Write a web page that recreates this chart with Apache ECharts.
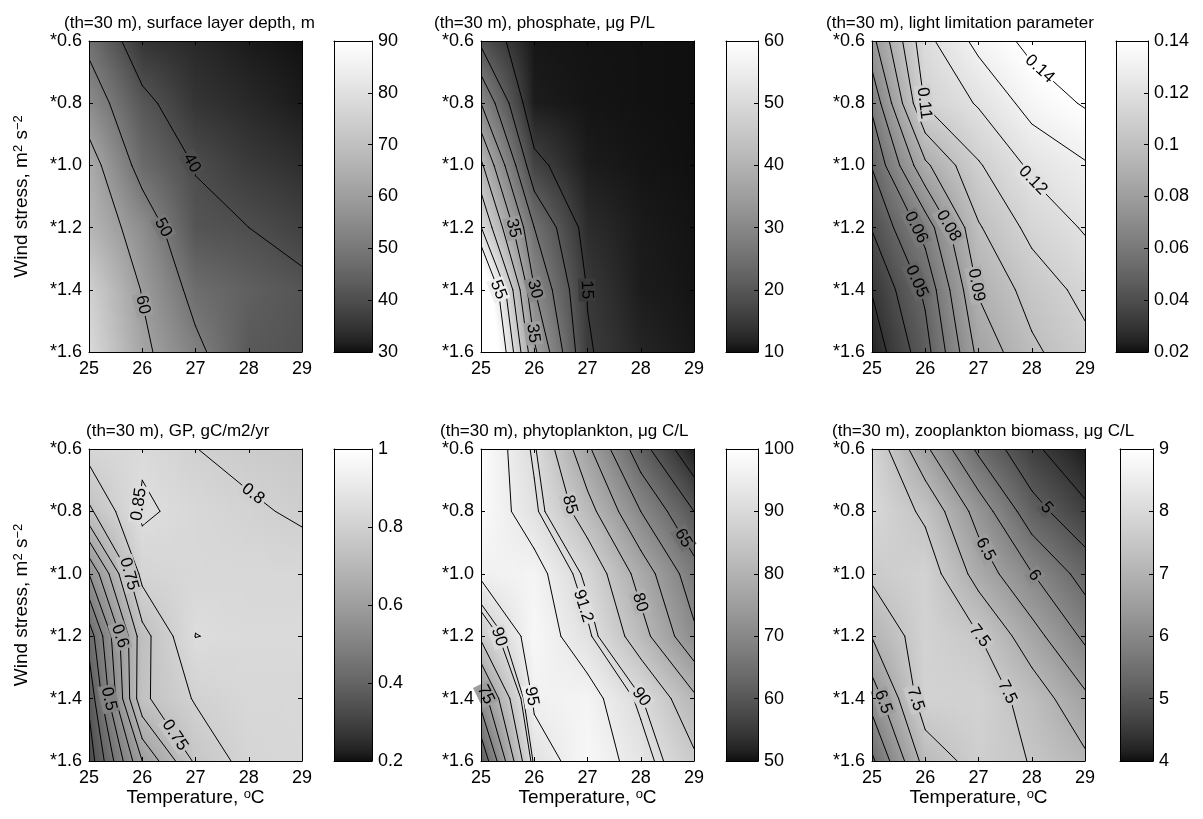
<!DOCTYPE html>
<html>
<head>
<meta charset="utf-8">
<title>th=30 m sensitivity maps</title>
<script src="https://cdn.jsdelivr.net/npm/echarts@6.0.0/dist/echarts.min.js"></script>
<style>
html, body { margin: 0; padding: 0; background: #fff; }
#chart { width: 1203px; height: 819px; }
</style>
</head>
<body>
<div id="chart"></div>
<script>
var FONT = '"Liberation Sans", Arial, Helvetica, sans-serif';

// model grid
var temperature = [25, 26, 27, 28, 29];
var windStress = [0.6, 0.8, 1.0, 1.2, 1.4, 1.6];

// one row per wind stress (0.6 .. 1.6), one column per temperature (25 .. 29)
var surfaceDepth = [
  [48, 35, 33, 31, 30],
  [55, 42, 35, 33, 31],
  [64, 46.6, 39.7, 36, 34],
  [67, 55.5, 41.5, 40.01, 37.5],
  [75, 59.5, 47.2, 44, 41.5],
  [78, 62, 52, 42.5, 41]
];
var phosphate = [
  [19, 10.5, 10.2, 10.1, 10],
  [30, 11, 10.3, 10.1, 10],
  [41, 16.5, 11, 10.3, 10],
  [50.2, 25, 13, 10.8, 10.2],
  [67, 30.2, 14.8, 11, 10.3],
  [72, 36, 15.4, 12, 10.5]
];
var lightLimit = [
  [0.077, 0.117, 0.133, 0.143, 0.15],
  [0.062, 0.111, 0.121, 0.134, 0.141],
  [0.0505, 0.088, 0.109, 0.122, 0.129],
  [0.0405, 0.064, 0.099, 0.113, 0.121],
  [0.0305, 0.052, 0.091, 0.104, 0.113],
  [0.024, 0.046, 0.083, 0.098, 0.107]
];
var grossProd = [
  [0.82, 0.84, 0.801, 0.78, 0.77],
  [0.74, 0.86, 0.83, 0.81, 0.79],
  [0.55, 0.817, 0.83, 0.83, 0.83],
  [0.42, 0.73, 0.851, 0.84, 0.84],
  [0.36, 0.74, 0.805, 0.83, 0.83],
  [0.32, 0.6, 0.76, 0.82, 0.83]
];
var phyto = [
  [99.5, 90.5, 76, 62, 51],
  [99, 92, 82, 70, 60],
  [96, 97, 89, 78, 67],
  [86, 98, 92, 82, 71],
  [72, 96, 97, 90.3, 81],
  [60.5, 92, 98, 93, 86]
];
var zoo = [
  [7.9, 6.6, 5.4, 4.6, 4.1],
  [7.95, 7.4, 6.3, 5.2, 4.6],
  [7.6, 7.8, 6.8, 6.02, 5.3],
  [7.02, 7.8, 7.52, 6.7, 5.9],
  [6.2, 7.8, 7.8, 7.3, 6.6],
  [5.4, 7.2, 7.7, 7.48, 7.1]
];

// contour levels
var depthLevels = [40, 50, 60];
var phosLevels = [15, 20, 25, 30, 35, 40, 45, 50, 55];
var lightLevels = [0.03, 0.04, 0.05, 0.06, 0.07, 0.08, 0.09, 0.1, 0.11, 0.12, 0.13, 0.14];
var gpLevels = [0.35, 0.4, 0.45, 0.5, 0.55, 0.6, 0.65, 0.7, 0.75, 0.8, 0.85];
var phytoLevels = [55, 60, 65, 70, 75, 80, 85, 90, 91.2, 95];
var zooLevels = [4.5, 5, 5.5, 6, 6.5, 7, 7.5];

// colour bar limits and tick step
var depthRange = [30, 90, 10];
var phosRange = [10, 60, 10];
var lightRange = [0.02, 0.14, 0.02];
var gpRange = [0.2, 1, 0.2];
var phytoRange = [50, 100, 10];
var zooRange = [4, 9, 1];

var panels = [
  { title: '(th=30 m), surface layer depth, m', field: surfaceDepth, levels: depthLevels, range: depthRange,
    spots: [[40, 26.96, 0.99], [50, 26.39, 1.2], [60, 25.95, 1.45]],
    left: 89, top: 41, height: 311, cbLeft: 334, cbWidth: 38, titleLeft: 64, titleTop: 15, first: true, last: false },
  { title: '(th=30 m), phosphate, \u03bcg P/L', field: phosphate, levels: phosLevels, range: phosRange,
    spots: [[55, 25.32, 1.4], [35, 25.66, 1.2], [30, 25.97, 1.4], [35, 25.98, 1.54], [15, 27.04, 1.4]],
    left: 481, top: 41, height: 311, cbLeft: 726, cbWidth: 32, titleLeft: 434, titleTop: 15, first: false, last: false },
  { title: '(th=30 m), light limitation parameter', field: lightLimit, levels: lightLevels, range: lightRange,
    spots: [[0.14, 28.04, 0.71], [0.11, 25.97, 0.8], [0.12, 27.95, 1.06], [0.06, 25.82, 1.2],
            [0.08, 26.38, 1.2], [0.05, 25.88, 1.37], [0.09, 27.1, 1.38]],
    left: 872, top: 41, height: 311, cbLeft: 1116, cbWidth: 32, titleLeft: 826, titleTop: 15, first: false, last: false },
  { title: '(th=30 m), GP, gC/m2/yr', field: grossProd, levels: gpLevels, range: gpRange,
    spots: [[0.8, 28.1, 0.74], [0.85, 26.05, 0.78], [0.75, 25.75, 1.0], [0.6, 25.58, 1.2], [0.5, 25.39, 1.4], [0.75, 26.94, 1.48]],
    left: 89, top: 449, height: 312, cbLeft: 334, cbWidth: 38, titleLeft: 86, titleTop: 423, first: true, last: true },
  { title: '(th=30 m), phytoplankton, \u03bcg C/L', field: phyto, levels: phytoLevels, range: phytoRange,
    spots: [[85, 26.42, 0.79], [65, 28.76, 0.89], [80, 28.01, 1.09], [91.2, 26.98, 1.1], [90, 28.04, 1.39],
            [90, 25.54, 1.19], [95, 26.04, 1.39], [75, 25.17, 1.38]],
    left: 481, top: 449, height: 312, cbLeft: 726, cbWidth: 32, titleLeft: 440, titleTop: 423, first: false, last: true },
  { title: '(th=30 m), zooplankton biomass, \u03bcg C/L', field: zoo, levels: zooLevels, range: zooRange,
    spots: [[5, 28.2, 0.8], [6.5, 27.04, 0.93], [6, 28.01, 1.01], [7.5, 27.01, 1.2], [7.5, 27.41, 1.39],
            [7.5, 25.85, 1.4], [6.5, 25.38, 1.4]],
    left: 872, top: 449, height: 312, cbLeft: 1120, cbWidth: 33, titleLeft: 832, titleTop: 423, first: false, last: true }
];

// grey scale of the print (slightly lifted, not linear)
function shade(g) {
  g = Math.max(0, Math.min(1, g));
  var c = Math.round(15 + 240 * Math.pow(g, 0.75));
  return 'rgb(' + c + ',' + c + ',' + c + ')';
}
function grayOf(v, range) {
  return shade((v - range[0]) / (range[1] - range[0]));
}

// vertical gradient stops for a strip going from vTop to vBot
function gradientStops(vTop, vBot, range, steps) {
  var span = range[1] - range[0];
  var gt = (vTop - range[0]) / span, gb = (vBot - range[0]) / span;
  var ss = [];
  for (var k = 0; k <= steps; k++) ss.push(k / steps);
  [0, 1].forEach(function (lim) {
    if ((gt - lim) * (gb - lim) < 0) ss.push((lim - gt) / (gb - gt));
  });
  ss.sort(function (a, b) { return a - b; });
  return ss.map(function (s) {
    return { offset: s, color: shade(gt + (gb - gt) * s) };
  });
}

function edgePoint(va, vb, pa, pb, level) {
  if ((va >= level) === (vb >= level)) return null;
  var t = (level - va) / (vb - va);
  return [pa[0] + t * (pb[0] - pa[0]), pa[1] + t * (pb[1] - pa[1])];
}

// marching squares on the model grid, segments in data units
function contourSegments(field, level) {
  var segs = [];
  for (var r = 0; r < windStress.length - 1; r++) {
    for (var c = 0; c < temperature.length - 1; c++) {
      var x0 = temperature[c], x1 = temperature[c + 1];
      var y0 = windStress[r], y1 = windStress[r + 1];
      var a = field[r][c], b = field[r][c + 1], e = field[r + 1][c + 1], d = field[r + 1][c];
      var top = edgePoint(a, b, [x0, y0], [x1, y0], level);
      var right = edgePoint(b, e, [x1, y0], [x1, y1], level);
      var bottom = edgePoint(d, e, [x0, y1], [x1, y1], level);
      var left = edgePoint(a, d, [x0, y0], [x0, y1], level);
      var pts = [top, right, bottom, left].filter(Boolean);
      if (pts.length === 2) {
        segs.push(pts[0].concat(pts[1]));
      } else if (pts.length === 4) {
        var mid = (a + b + e + d) / 4;
        if ((mid >= level) === (a >= level)) {
          segs.push(top.concat(right));
          segs.push(bottom.concat(left));
        } else {
          segs.push(left.concat(top));
          segs.push(right.concat(bottom));
        }
      }
    }
  }
  return segs;
}

// put each label on the nearest piece of its contour
function placeLabels(p) {
  var out = [];
  p.spots.forEach(function (s) {
    var best = null, bestD = Infinity;
    contourSegments(p.field, s[0]).forEach(function (g) {
      var dx = (g[2] - g[0]) * 53, dy = (g[3] - g[1]) * 311;
      var hx = (s[1] - g[0]) * 53, hy = (s[2] - g[1]) * 311;
      var len2 = dx * dx + dy * dy;
      var t = len2 > 0 ? Math.max(0, Math.min(1, (hx * dx + hy * dy) / len2)) : 0;
      var ex = hx - t * dx, ey = hy - t * dy;
      var dist = ex * ex + ey * ey;
      if (dist < bestD) {
        bestD = dist;
        best = [g[0] + t * (g[2] - g[0]), g[1] + t * (g[3] - g[1]), g[0], g[1], g[2], g[3]];
      }
    });
    if (best) out.push({ value: best, text: String(s[0]), level: s[0] });
  });
  return out;
}

var axisLine = { show: true, onZero: false, lineStyle: { color: '#000', width: 1 } };
var tickIn = { show: true, inside: true, length: 4, lineStyle: { color: '#000', width: 1 } };
var tickLabel = { color: '#000', fontSize: 18, fontFamily: FONT };
var nameStyle = { color: '#000', fontSize: 19, fontFamily: FONT,
  rich: { n: { fontSize: 19, fontFamily: FONT, color: '#000' },
          s: { fontSize: 13, fontFamily: FONT, color: '#000', verticalAlign: 'top' } } };

var option = {
  animation: false,
  backgroundColor: '#fff',
  title: [],
  grid: [],
  xAxis: [],
  yAxis: [],
  series: []
};

panels.forEach(function (p) {
  option.title.push({
    text: p.title, left: p.titleLeft, top: p.titleTop, padding: 0,
    textStyle: { fontSize: 17, fontWeight: 'normal', color: '#000', fontFamily: FONT }
  });

  // map area
  var gi = option.grid.length;
  option.grid.push({ left: p.left, top: p.top, width: 213, height: p.height, containLabel: false, outerBoundsMode: 'none' });
  var xi = option.xAxis.length;
  option.xAxis.push({
    type: 'value', gridIndex: gi, position: 'bottom', min: 25, max: 29, interval: 1, z: 10,
    axisLine: axisLine, axisTick: tickIn, splitLine: { show: false },
    axisLabel: Object.assign({ margin: 8 }, tickLabel),
    name: p.last ? '{n|Temperature, }{s|o}{n|C}' : '', nameLocation: 'middle', nameGap: 27,
    nameTextStyle: nameStyle
  });
  option.xAxis.push({
    type: 'value', gridIndex: gi, position: 'top', min: 25, max: 29, interval: 1, z: 10,
    axisLine: axisLine, axisTick: tickIn, splitLine: { show: false }, axisLabel: { show: false }
  });
  var yi = option.yAxis.length;
  option.yAxis.push({
    type: 'value', gridIndex: gi, position: 'left', min: 0.6, max: 1.6, interval: 0.2, inverse: true, z: 10,
    axisLine: axisLine, axisTick: tickIn, splitLine: { show: false },
    axisLabel: Object.assign({ margin: 7, formatter: function (v) { return '*' + v.toFixed(1); } }, tickLabel),
    name: p.first ? '{n|Wind stress, m}{s|2}{n| s}{s|\u22122}' : '', nameLocation: 'middle', nameGap: 58, nameRotate: 90,
    nameTextStyle: nameStyle
  });
  option.yAxis.push({
    type: 'value', gridIndex: gi, position: 'right', min: 0.6, max: 1.6, interval: 0.2, inverse: true, z: 10,
    axisLine: axisLine, axisTick: tickIn, splitLine: { show: false }, axisLabel: { show: false }
  });

  // shaded field, one item per grid cell, painted in one-pixel columns on whole pixels
  var cells = [];
  for (var r = 0; r < windStress.length - 1; r++) {
    for (var c = 0; c < temperature.length - 1; c++) {
      cells.push([temperature[c], windStress[r], temperature[c + 1], windStress[r + 1], c, r]);
    }
  }
  var field = p.field, range = p.range;
  option.series.push({
    type: 'custom', xAxisIndex: xi, yAxisIndex: yi, silent: true, clip: true, z: 1,
    encode: { x: [0, 2], y: [1, 3] },
    data: cells,
    renderItem: function (params, api) {
      var c = api.value(4), r = api.value(5);
      var p0 = api.coord([api.value(0), api.value(1)]);
      var p1 = api.coord([api.value(2), api.value(3)]);
      var a = field[r][c], b = field[r][c + 1], d = field[r + 1][c], e = field[r + 1][c + 1];
      var xa = Math.round(p0[0]), xb = Math.round(p1[0]);
      var ya = Math.round(p0[1]), yb = Math.round(p1[1]);
      var kids = [];
      for (var x = xa; x < xb; x++) {
        var u = Math.max(0, Math.min(1, (x + 0.5 - p0[0]) / (p1[0] - p0[0])));
        var vt = a + (b - a) * u, vb = d + (e - d) * u;
        kids.push({
          type: 'rect',
          shape: { x: x, y: ya, width: 1, height: yb - ya },
          style: { fill: new echarts.graphic.LinearGradient(0, 0, 0, 1, gradientStops(vt, vb, range, 6)) }
        });
      }
      return { type: 'group', children: kids };
    }
  });

  // contour lines
  var segs = [];
  p.levels.forEach(function (lv) { segs = segs.concat(contourSegments(field, lv)); });
  option.series.push({
    type: 'custom', xAxisIndex: xi, yAxisIndex: yi, silent: true, clip: true, z: 2,
    encode: { x: [0, 2], y: [1, 3] },
    data: segs,
    renderItem: function (params, api) {
      var a = api.coord([api.value(0), api.value(1)]);
      var b = api.coord([api.value(2), api.value(3)]);
      return { type: 'line', shape: { x1: a[0], y1: a[1], x2: b[0], y2: b[1] },
               style: { stroke: '#000', lineWidth: 1, lineCap: 'round' } };
    }
  });

  // contour labels
  var labels = placeLabels(p);
  option.series.push({
    type: 'custom', xAxisIndex: xi, yAxisIndex: yi, silent: true, clip: false, z: 3,
    encode: { x: [0, 2, 4], y: [1, 3, 5] },
    data: labels.map(function (l) { return l.value; }),
    renderItem: function (params, api) {
      var l = labels[params.dataIndex];
      var pt = api.coord([api.value(0), api.value(1)]);
      var a = api.coord([api.value(2), api.value(3)]);
      var b = api.coord([api.value(4), api.value(5)]);
      var ang = Math.atan2(b[1] - a[1], b[0] - a[0]);
      if (ang > Math.PI / 2) ang -= Math.PI;
      if (ang < -Math.PI / 2) ang += Math.PI;
      return {
        type: 'text', x: pt[0], y: pt[1], rotation: -ang,
        style: { text: l.text, fill: '#000', font: '17px ' + FONT, align: 'center', verticalAlign: 'middle',
                 backgroundColor: grayOf(l.level, range), padding: [0, 2] }
      };
    }
  });

  // colour bar
  var cg = option.grid.length;
  option.grid.push({ left: p.cbLeft, top: p.top, width: p.cbWidth, height: p.height, containLabel: false, outerBoundsMode: 'none' });
  var cx = option.xAxis.length;
  option.xAxis.push({ type: 'value', gridIndex: cg, position: 'bottom', min: 0, max: 1, z: 10,
    axisLine: axisLine, axisTick: { show: false }, axisLabel: { show: false }, splitLine: { show: false } });
  option.xAxis.push({ type: 'value', gridIndex: cg, position: 'top', min: 0, max: 1, z: 10,
    axisLine: axisLine, axisTick: { show: false }, axisLabel: { show: false }, splitLine: { show: false } });
  var cy = option.yAxis.length;
  option.yAxis.push({ type: 'value', gridIndex: cg, position: 'right', min: range[0], max: range[1], interval: range[2], z: 10,
    axisLine: axisLine, axisTick: tickIn, splitLine: { show: false },
    axisLabel: Object.assign({ margin: 6 }, tickLabel) });
  option.yAxis.push({ type: 'value', gridIndex: cg, position: 'left', min: range[0], max: range[1], z: 10,
    axisLine: axisLine, axisTick: { show: false }, axisLabel: { show: false }, splitLine: { show: false } });
  option.series.push({
    type: 'custom', xAxisIndex: cx, yAxisIndex: cy, silent: true, z: 1,
    encode: { x: [0, 2], y: [1, 3] },
    data: [[0, range[0], 1, range[1]]],
    renderItem: function (params, api) {
      var lo = api.coord([api.value(0), api.value(1)]);
      var hi = api.coord([api.value(2), api.value(3)]);
      return {
        type: 'rect',
        shape: { x: lo[0], y: hi[1], width: hi[0] - lo[0], height: lo[1] - hi[1] },
        style: { fill: new echarts.graphic.LinearGradient(0, 0, 0, 1, gradientStops(range[1], range[0], range, 32)) }
      };
    }
  });
});

var chart = echarts.init(document.getElementById('chart'));
chart.setOption(option);
</script>
</body>
</html>
